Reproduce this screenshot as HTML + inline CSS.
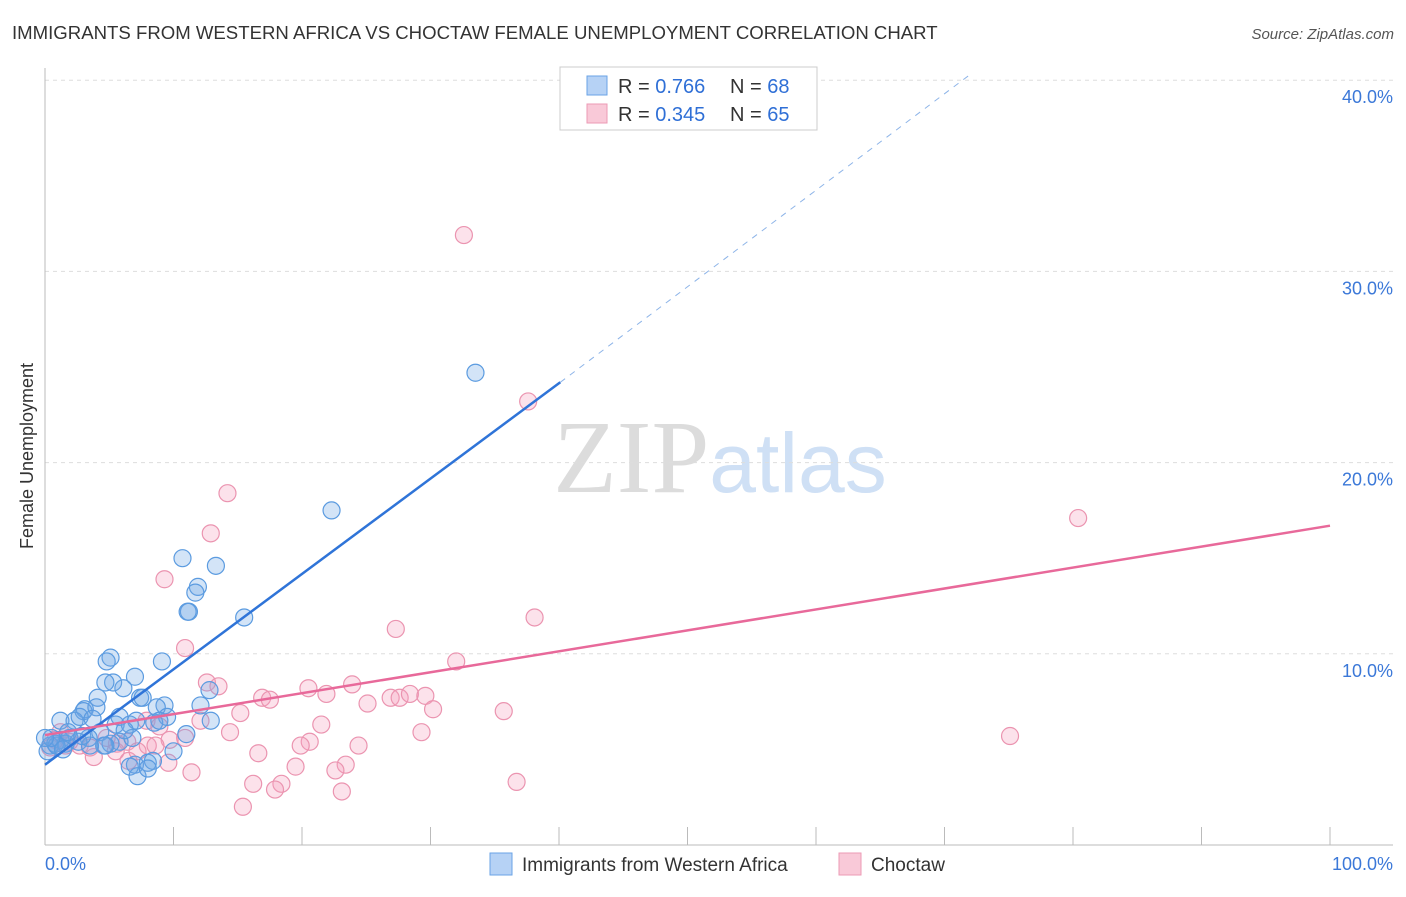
<!DOCTYPE html>
<html><head><meta charset="utf-8"><style>
body{margin:0;background:#fff;font-family:"Liberation Sans",sans-serif}
</style></head><body>
<svg id="chart" width="1406" height="892" xmlns="http://www.w3.org/2000/svg" font-family="Liberation Sans, sans-serif">
<text x="12" y="39" font-size="18.6" fill="#333">IMMIGRANTS FROM WESTERN AFRICA VS CHOCTAW FEMALE UNEMPLOYMENT CORRELATION CHART</text>
<text x="1394" y="39" font-size="15" fill="#555" text-anchor="end" font-style="italic">Source: ZipAtlas.com</text>
<text x="720" y="492" font-size="104" text-anchor="middle"><tspan fill="#dcdcdc" font-family="Liberation Serif, serif">ZIP</tspan><tspan fill="#cfe0f5" font-size="84">atlas</tspan></text>
<g id="grid"></g>
<g id="axes"></g>
<g id="pts"></g>
<g id="lines"></g>
<text transform="translate(33,456) rotate(-90)" font-size="18" fill="#333" text-anchor="middle">Female Unemployment</text>
<g>
<rect x="560" y="67" width="257" height="63" fill="#fff" stroke="#ccc"/>
<rect x="587" y="76" width="20" height="19" fill="#b6d2f5" stroke="#6aa3e6"/>
<rect x="587" y="104" width="20" height="19" fill="#f9c9d8" stroke="#ec9ab5"/>
<text x="618" y="93" font-size="20" fill="#333">R = <tspan fill="#2f6fd6">0.766</tspan></text>
<text x="730" y="93" font-size="20" fill="#333">N = <tspan fill="#2f6fd6">68</tspan></text>
<text x="618" y="121" font-size="20" fill="#333">R = <tspan fill="#2f6fd6">0.345</tspan></text>
<text x="730" y="121" font-size="20" fill="#333">N = <tspan fill="#2f6fd6">65</tspan></text>
</g>
<g>
<rect x="490" y="853" width="22" height="22" fill="#b6d2f5" stroke="#6aa3e6"/>
<text x="522" y="871" font-size="19" fill="#333">Immigrants from Western Africa</text>
<rect x="839" y="853" width="22" height="22" fill="#f9c9d8" stroke="#ec9ab5"/>
<text x="871" y="871" font-size="19" fill="#333">Choctaw</text>
</g>
</svg>
<script>
const blueX=[33.5,22.3,10.7,13.3,11.9,11.7,11.2,11.1,15.5,9.1,5.1,4.8,7.0,4.1,6.1,5.3,4.7,7.4,7.6,9.3,8.7,12.1,12.8,3.1,3.0,4.0,1.2,2.3,2.7,3.7,5.8,5.5,6.6,7.1,9.5,12.9,11.0,8.5,1.2,1.9,0.4,0.8,1.6,4.3,5.8,5.1,6.8,10.0,7.0,8.0,8.4,6.6,7.2,3.4,4.6,2.6,1.8,0.2,0.9,8.9,6.2,4.7,3.5,0.5,1.4,0.0,2.9,8.0];
const blueY=[24.7,17.5,15.0,14.6,13.5,13.2,12.2,12.2,11.9,9.6,9.8,9.6,8.8,7.7,8.2,8.5,8.5,7.7,7.7,7.3,7.2,7.3,8.1,7.1,7.0,7.2,6.5,6.5,6.7,6.6,6.7,6.3,6.3,6.5,6.7,6.5,5.8,6.4,5.5,5.6,5.2,5.3,5.3,5.9,5.4,5.3,5.6,4.9,4.2,4.3,4.4,4.1,3.6,5.6,5.2,5.4,5.9,4.9,5.2,6.5,6.0,5.2,5.2,5.6,5.0,5.6,5.7,4.0];
const pinkX=[32.6,37.6,14.2,12.9,9.3,80.4,38.1,27.3,10.9,32.0,12.6,13.5,16.9,17.5,20.5,21.9,23.9,25.1,26.9,27.6,28.4,29.6,30.2,35.7,15.2,21.5,12.1,7.9,8.9,14.4,29.3,75.1,10.9,20.6,19.9,24.4,9.7,8.0,6.4,5.6,1.2,2.7,3.8,5.5,6.5,8.6,9.6,16.6,23.4,22.6,19.5,11.4,16.2,18.4,17.9,23.1,15.4,36.7,4.8,1.9,3.5,0.8,0.4,1.6,7.2];
const pinkY=[31.9,23.2,18.4,16.3,13.9,17.1,11.9,11.3,10.3,9.6,8.5,8.3,7.7,7.6,8.2,7.9,8.4,7.4,7.7,7.7,7.9,7.8,7.1,7.0,6.9,6.3,6.5,6.5,6.2,5.9,5.9,5.7,5.6,5.4,5.2,5.2,5.5,5.2,5.4,5.3,5.9,5.2,4.6,4.9,4.4,5.2,4.3,4.8,4.2,3.9,4.1,3.8,3.2,3.2,2.9,2.8,2.0,3.3,5.6,5.4,5.1,5.5,5.1,5.2,4.9];
const yTicks=[10,20,30,40];
const yTickLabels=["10.0%","20.0%","30.0%","40.0%"];
const xTicks=[0,10,20,30,40,50,60,70,80,90,100];
const blueFit=[[0,4.2],[40.1,24.2]];
const blueFitDash=[[40.1,24.2],[72.0,40.3]];
const pinkFit=[[0,5.75],[100,16.7]];
const NS='http://www.w3.org/2000/svg';
const sx=v=>45+v*12.85, sy=v=>845-v*19.12;
function mk(tag,attrs,parent){const e=document.createElementNS(NS,tag);for(const k in attrs)e.setAttribute(k,attrs[k]);document.getElementById(parent).appendChild(e);return e;}
yTicks.forEach((t,i)=>{
 const l=mk('line',{x1:45,x2:1393,y1:sy(t),y2:sy(t),stroke:'#ddd','stroke-dasharray':'4,4'},'grid');
 
 
 const tx=mk('text',{x:1393,y:sy(t)+23,'font-size':18,fill:'#3b78d8','text-anchor':'end'},'grid');
 tx.textContent=yTickLabels[i];
 
 
});
const ax=mk('line',{x1:45,x2:45,y1:68,y2:845,stroke:'#bbb'},'axes');


const bx=mk('line',{x1:45,x2:1393,y1:845,y2:845,stroke:'#bbb'},'axes');


xTicks.forEach(t=>{
 const l=mk('line',{x1:sx(t),x2:sx(t),y1:827,y2:845,stroke:'#bbb'},'axes');
 
 
});
const x0=mk('text',{x:45,y:870,'font-size':18,fill:'#3b78d8'},'axes');x0.textContent='0.0%';


const x1=mk('text',{x:1393,y:870,'font-size':18,fill:'#3b78d8','text-anchor':'end'},'axes');x1.textContent='100.0%';


pinkX.forEach((v,i)=>{
 const c=mk('circle',{cx:sx(v),cy:sy(pinkY[i]),r:8.5,fill:'rgba(244,160,188,0.3)',stroke:'#eb94b0','stroke-width':1.2},'pts');
 
 
});
blueX.forEach((v,i)=>{
 const c=mk('circle',{cx:sx(v),cy:sy(blueY[i]),r:8.5,fill:'rgba(110,165,230,0.3)',stroke:'#5b9be0','stroke-width':1.2},'pts');
 
 
});
function ln(p,col,dash,name){
 const l=mk('line',{x1:sx(p[0][0]),y1:sy(p[0][1]),x2:sx(p[1][0]),y2:sy(p[1][1]),stroke:col,'stroke-width':dash?1:2.5},'lines');
 if(dash)l.setAttribute('stroke-dasharray','6,6');
 
 
}
ln(blueFit,'#2f74d8',false,'western-africa-trendline');
ln(blueFitDash,'#8db4e8',true,'western-africa-trendline-extension');
ln(pinkFit,'#e8699a',false,'choctaw-trendline');
</script>
</body></html>
